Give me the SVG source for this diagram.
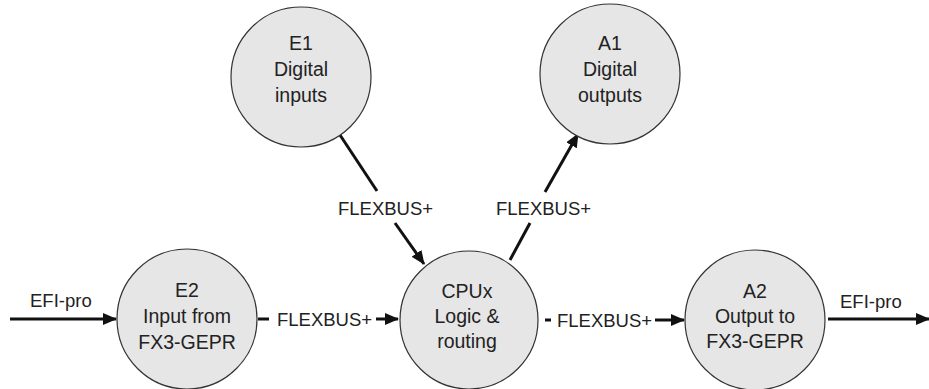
<svg xmlns="http://www.w3.org/2000/svg" width="929" height="389" viewBox="0 0 929 389">
<style>
.node circle{fill:#e6e6e6;stroke:#333;stroke-width:1.2}
text{font-family:"Liberation Sans",Arial,sans-serif;font-size:18.5px;fill:#222}
.node text{text-anchor:middle;font-size:19.5px}
.c line{stroke:#111;stroke-width:3}
</style>
<defs>
<marker id="ah" markerUnits="userSpaceOnUse" markerWidth="14" markerHeight="12" refX="13" refY="6" orient="auto">
<path d="M0,0 L14,6 L0,12 Z" fill="#111"/>
</marker>
</defs>
<rect width="929" height="389" fill="#fff"/>
<g class="c" id="connectors">
<line x1="10" y1="319" x2="116" y2="319" marker-end="url(#ah)"/>
<text x="30" y="307">EFI-pro</text>
<line x1="258" y1="319" x2="269" y2="319"/>
<text x="277" y="326">FLEXBUS+</text>
<line x1="376" y1="319" x2="398" y2="319" marker-end="url(#ah)"/>
<line x1="545" y1="320" x2="551" y2="320"/>
<text x="557" y="327">FLEXBUS+</text>
<line x1="655" y1="320" x2="684" y2="320" marker-end="url(#ah)"/>
<line x1="828" y1="319" x2="929" y2="319" marker-end="url(#ah)"/>
<text x="840" y="308">EFI-pro</text>
<line x1="340" y1="135" x2="377" y2="191"/>
<text x="338" y="215">FLEXBUS+</text>
<line x1="395" y1="223" x2="424" y2="264" marker-end="url(#ah)"/>
<line x1="510" y1="260" x2="530" y2="223"/>
<text x="496" y="215">FLEXBUS+</text>
<line x1="545" y1="192" x2="578" y2="134" marker-end="url(#ah)"/>
</g>
<g class="node" id="E1">
<circle cx="301" cy="77" r="70"/>
<text x="301" y="50">E1</text><text x="301" y="76">Digital</text><text x="301" y="102">inputs</text>
</g>
<g class="node" id="A1">
<circle cx="610" cy="74" r="70"/>
<text x="610" y="50">A1</text><text x="610" y="76">Digital</text><text x="610" y="102">outputs</text>
</g>
<g class="node" id="E2">
<circle cx="187" cy="319" r="70"/>
<text x="187" y="297">E2</text><text x="187" y="323">Input from</text><text x="187" y="349">FX3-GEPR</text>
</g>
<g class="node" id="CPUx">
<circle cx="469" cy="320" r="69"/>
<text x="467" y="298">CPUx</text><text x="467" y="323">Logic &amp;</text><text x="467" y="348">routing</text>
</g>
<g class="node" id="A2">
<circle cx="755" cy="320" r="70"/>
<text x="755" y="298">A2</text><text x="755" y="323">Output to</text><text x="755" y="348">FX3-GEPR</text>
</g>
</svg>
